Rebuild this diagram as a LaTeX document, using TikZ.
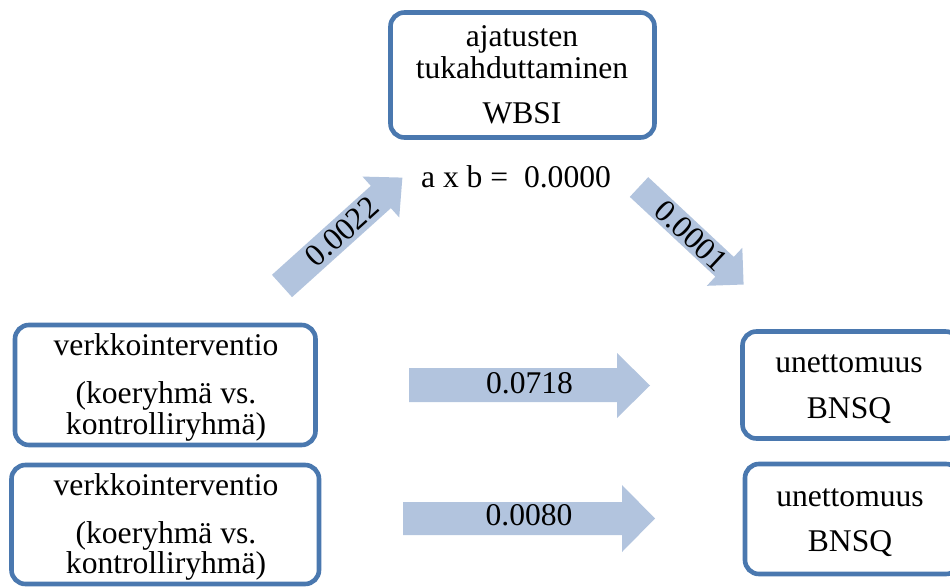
\documentclass[tikz,border=0pt]{standalone}
\usepackage{fontspec}
\setmainfont{Liberation Serif}
\definecolor{boxline}{RGB}{74,120,175}
\definecolor{arrowfill}{RGB}{178,196,222}
\begin{document}
\begin{tikzpicture}[x=1pt,y=-1pt,
  box/.style={draw=boxline,line width=4.6pt,rounded corners=14pt,fill=white,inner sep=0pt},
  txt/.style={inner sep=0pt,anchor=base,font=\fontsize{31.6}{38}\selectfont},
  flow/.style={fill=arrowfill}]
\useasboundingbox (0,0) rectangle (950,588);
\clip (0,0) rectangle (950,588);
% boxes
\node[box,minimum width=264pt,minimum height=125pt] (wbsi) at (522.5,75) {};
\node[box,minimum width=300.5pt,minimum height=120pt] (verkko1) at (165.25,385) {};
\node[box,minimum width=307.5pt,minimum height=119pt] (verkko2) at (165.25,524.5) {};
\node[box,minimum width=217pt,minimum height=107pt] (bnsq1) at (851,385) {};
\node[box,minimum width=215pt,minimum height=110pt] (bnsq2) at (852.5,519) {};
% box texts
\node[txt] (w1) at (522,46.7) {ajatusten};
\node[txt] (w2) at (522,78.3) {tukahduttaminen};
\node[txt] (w3) at (522,123.3) {WBSI};
\node[txt] (v1a) at (166,355) {verkkointerventio};
\node[txt] (v1b) at (166,403.3) {(koeryhmä vs.};
\node[txt] (v1c) at (166,434) {kontrolliryhmä)};
\node[txt] (v2a) at (166,495) {verkkointerventio};
\node[txt] (v2b) at (166,543.3) {(koeryhmä vs.};
\node[txt] (v2c) at (166,573.3) {kontrolliryhmä)};
\node[txt] (b1a) at (849,372.7) {unettomuus};
\node[txt] (b1b) at (849,418.3) {BNSQ};
\node[txt] (b2a) at (850,506) {unettomuus};
\node[txt] (b2b) at (850,551.7) {BNSQ};
\node[txt] (axb) at (516,188) {a x b =\ \ 0.0000};
% horizontal arrows
\fill[flow] (409,368) -- (617,368) -- (617,353) -- (650,385.5) -- (617,418) -- (617,402) -- (409,402) -- cycle;
\node[txt] (c1) at (529.5,393) {0.0718};
\fill[flow] (403,502) -- (622,502) -- (622,485) -- (655,518.5) -- (622,552) -- (622,535) -- (403,535) -- cycle;
\node[txt] (c2) at (529,525) {0.0080};
% diagonal arrows
\begin{scope}[shift={(282,286)},rotate=42]
\fill[flow] (0,-15) -- (133,-15) -- (133,-27.5) -- (162,0) -- (133,27.5) -- (133,15) -- (0,15) -- cycle;
\node[txt,anchor=center,transform shape] (a1) at (81,0) {0.0022};
\end{scope}
\begin{scope}[shift={(639,187)},rotate=-43]
\fill[flow] (0,-13.5) -- (117,-13.5) -- (117,-26) -- (143,0) -- (117,26) -- (117,13.5) -- (0,13.5) -- cycle;
\node[txt,anchor=center,transform shape] (b1) at (71.5,0) {0.0001};
\end{scope}
\end{tikzpicture}
\end{document}
